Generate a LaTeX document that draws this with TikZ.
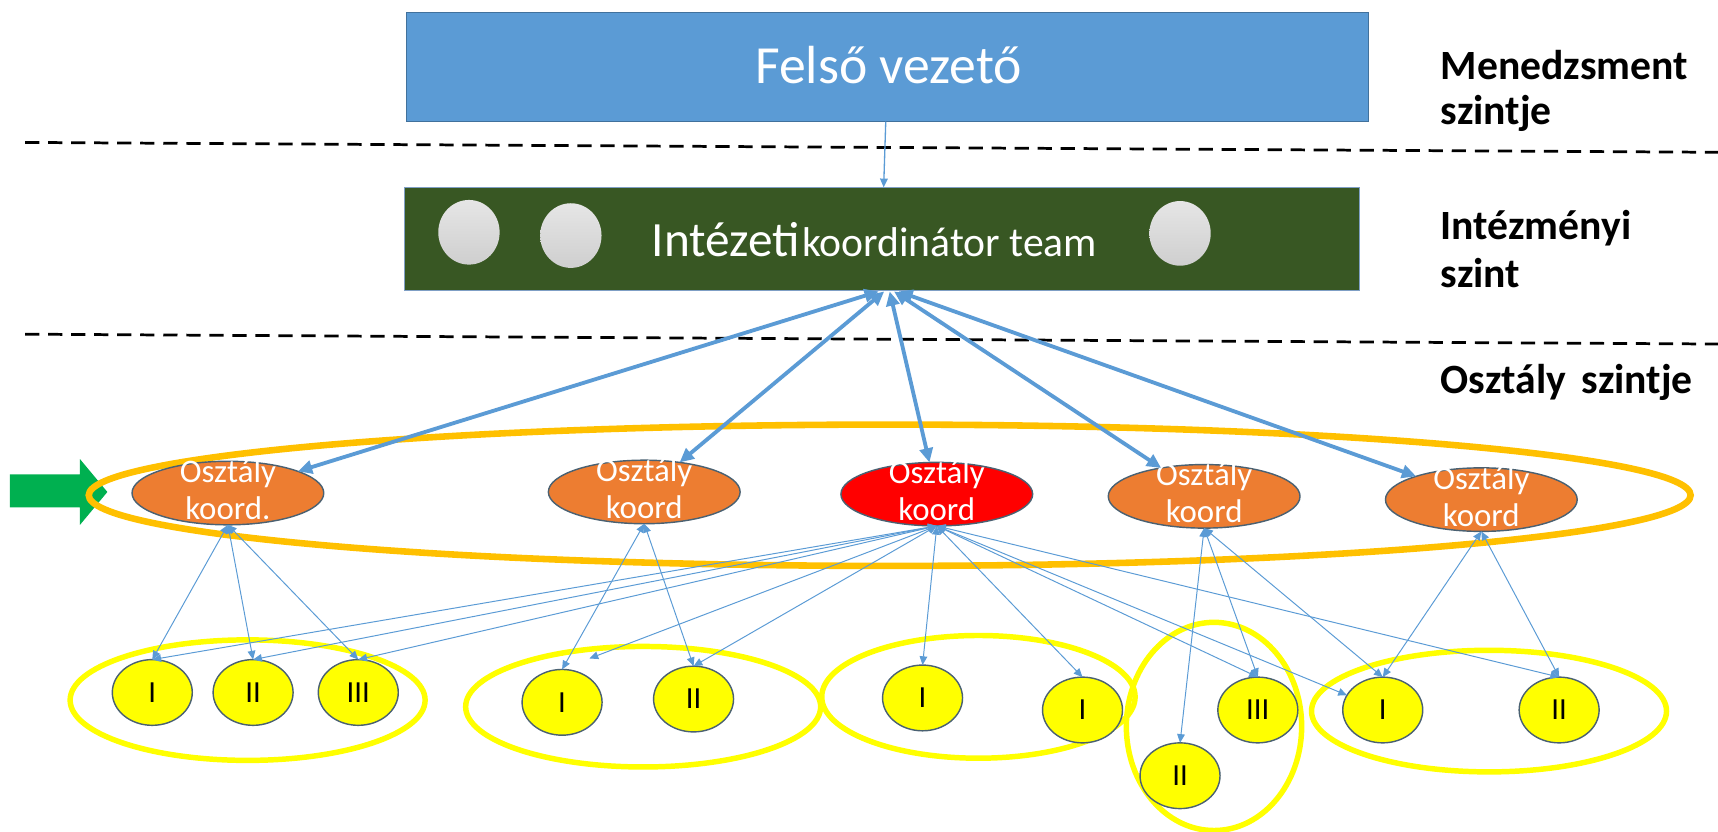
\documentclass[tikz,border=0pt]{standalone}
\usepackage{fontspec}
\setmainfont{Carlito}
\usetikzlibrary{shapes.geometric,arrows.meta}
\definecolor{topblue}{HTML}{5B9BD5}
\definecolor{topedge}{HTML}{41719C}
\definecolor{teamgreen}{HTML}{385723}
\definecolor{teamedge}{HTML}{7F9FC5}
\definecolor{koordor}{HTML}{ED7D31}
\definecolor{edgegray}{HTML}{4A6172}
\definecolor{ringor}{HTML}{FFC000}
\definecolor{yel}{HTML}{FFFF00}
\definecolor{arrowgreen}{HTML}{00B050}
\definecolor{linkblue}{HTML}{5B9BD5}
\begin{document}
\begin{tikzpicture}[x=1pt,y=-1pt,
  every node/.style={inner sep=0pt, outer sep=0pt},
  topbox/.style={rectangle, draw=topedge, line width=1pt, fill=topblue, minimum width=878pt, minimum height=100pt},
  teambox/.style={rectangle, draw=teamedge, line width=1pt, fill=teamgreen, minimum width=872pt, minimum height=94pt},
  graydot/.style={ellipse, minimum width=56pt, minimum height=59pt, top color=gray!20, bottom color=gray!38},
  koordnode/.style={ellipse, draw=edgegray, line width=1.3pt, fill=koordor, minimum width=175pt, minimum height=58pt},
  koordtxt/.style={text=white, align=center, font=\fontsize{30}{34}\selectfont},
  unitnode/.style={ellipse, draw=edgegray, line width=1.3pt, fill=yel, minimum width=73pt, minimum height=60pt, font=\fontsize{28}{32}\selectfont},
  grpring/.style={ellipse, draw=yel, line width=5pt},
  bigring/.style={ellipse, draw=ringor, line width=6pt, minimum width=1462pt, minimum height=129pt},
  lvltxt/.style={anchor=base west, font=\bfseries\fontsize{38}{42}\selectfont},
  divider/.style={black, line width=2.5pt, dash pattern=on 13pt off 8pt},
  uplink/.style={draw=linkblue, line width=3.5pt, {Triangle[length=13pt,width=12pt]}-{Triangle[length=13pt,width=12pt]}},
  sublink/.style={draw=linkblue, line width=0.9pt, {Triangle[length=8pt,width=7pt]}-{Triangle[length=8pt,width=7pt]}},
  toplink/.style={draw=linkblue, line width=1.2pt, -{Triangle[length=8pt,width=7pt]}}
]
\useasboundingbox (0,0) rectangle (1568,759);

% level dividers
\coordinate (d1a) at (23,130);
\coordinate (d1b) at (1568,139);
\coordinate (d2a) at (23,305);
\coordinate (d2b) at (1568,314);
\draw[divider] (d1a) -- (d1b);
\draw[divider] (d2a) -- (d2b);

% green pointer arrow
\fill[arrowgreen] (9,433) -- (73,433) -- (73,419) -- (98,449) -- (73,479) -- (73,463) -- (9,463) -- cycle;

% group rings
\node[grpring, minimum width=324pt, minimum height=110pt] (ringA) at (226,639) {};
\node[grpring, minimum width=324pt, minimum height=110pt] (ringB) at (587,645) {};
\node[grpring, minimum width=286pt, minimum height=112pt] (ringC) at (893,636) {};
\node[grpring, minimum width=160pt, minimum height=190pt] (ringD) at (1108,663) {};
\node[grpring, minimum width=324pt, minimum height=111pt] (ringE) at (1359,649) {};
\node[bigring] (ringK) at (812,452) {};

% top levels
\node[topbox] (top) at (810,61) {};
\node[anchor=base, text=white, font=\fontsize{49}{55}\selectfont] (toptxt) at (811,76) {Felső vezető};
\node[teambox] (team) at (805,218) {};
\node[graydot] (g1) at (428,212) {};
\node[graydot] (g2) at (521,215) {};
\node[graydot] (g3) at (1077,213) {};
\node[anchor=base west, text=white] (teamtxt) at (595,234) {{\fontsize{45}{50}\selectfont Intézeti}\kern2pt{\fontsize{38}{44}\selectfont koordinátor team}};

% level labels
\node[lvltxt] (l1a) at (1315,73) {Menedzsment};
\node[lvltxt] (l1b) at (1315,114) {szintje};
\node[lvltxt] (l2a) at (1315,219) {Intézményi};
\node[lvltxt] (l2b) at (1315,262) {szint};
\node[lvltxt] (l3) at (1315,359) {Osztály\hspace{14pt}szintje};

% department coordinators
\node[koordnode] (k1) at (208,450) {};
\node[koordnode] (k2) at (588,449) {};
\node[koordnode, fill=red] (k3) at (855,451) {};
\node[koordnode] (k4) at (1099,453) {};
\node[koordnode] (k5) at (1352,456) {};
\node[koordtxt] (k1t) at (208,447) {Osztály\\koord.};
\node[koordtxt] (k2t) at (588,446) {Osztály\\koord};
\node[koordtxt] (k3t) at (855,448) {Osztály\\koord};
\node[koordtxt] (k4t) at (1099,450) {Osztály\\koord};
\node[koordtxt] (k5t) at (1352,453) {Osztály\\koord};

% units
\node[unitnode] (a1) at (139,632) {I};
\node[unitnode] (a2) at (231,632) {II};
\node[unitnode] (a3) at (327,632) {III};
\node[unitnode] (b1) at (513,641) {I};
\node[unitnode] (b2) at (633,638) {II};
\node[unitnode] (c1) at (842,637) {I};
\node[unitnode] (c2) at (988,648) {I};
\node[unitnode] (d2) at (1077,708) {II};
\node[unitnode] (d3) at (1148,648) {III};
\node[unitnode] (e1) at (1262,648) {I};
\node[unitnode] (e2) at (1423,648) {II};

% links
\draw[toplink] (top) -- (team);
\coordinate (h1) at (802,266);
\coordinate (h2) at (807,266);
\coordinate (h3) at (812,266);
\coordinate (h4) at (816,266);
\coordinate (h5) at (820,266);
\draw[uplink] (h1) -- (k1);
\draw[uplink] (h2) -- (k2);
\draw[uplink] (h3) -- (k3);
\draw[uplink] (h4) -- (k4);
\draw[uplink] (h5) -- (k5);

\foreach \u in {a1,a2,a3} \draw[sublink] (k1.south) -- (\u.north);
\foreach \u in {b1,b2} \draw[sublink] (k2.south) -- (\u.north);
\coordinate (b1x) at (538,601);
\foreach \u in {a1,a2,a3,b2,c1,c2,d3,e2} \draw[sublink] (k3.south) -- (\u.north);
\draw[sublink] (k3.south) -- (b1x);
\draw[sublink] (k3.south) -- (e1);
\foreach \u in {d2,d3,e1} \draw[sublink] (k4.south) -- (\u.north);
\foreach \u in {e1,e2} \draw[sublink] (k5.south) -- (\u.north);
\end{tikzpicture}
\end{document}
